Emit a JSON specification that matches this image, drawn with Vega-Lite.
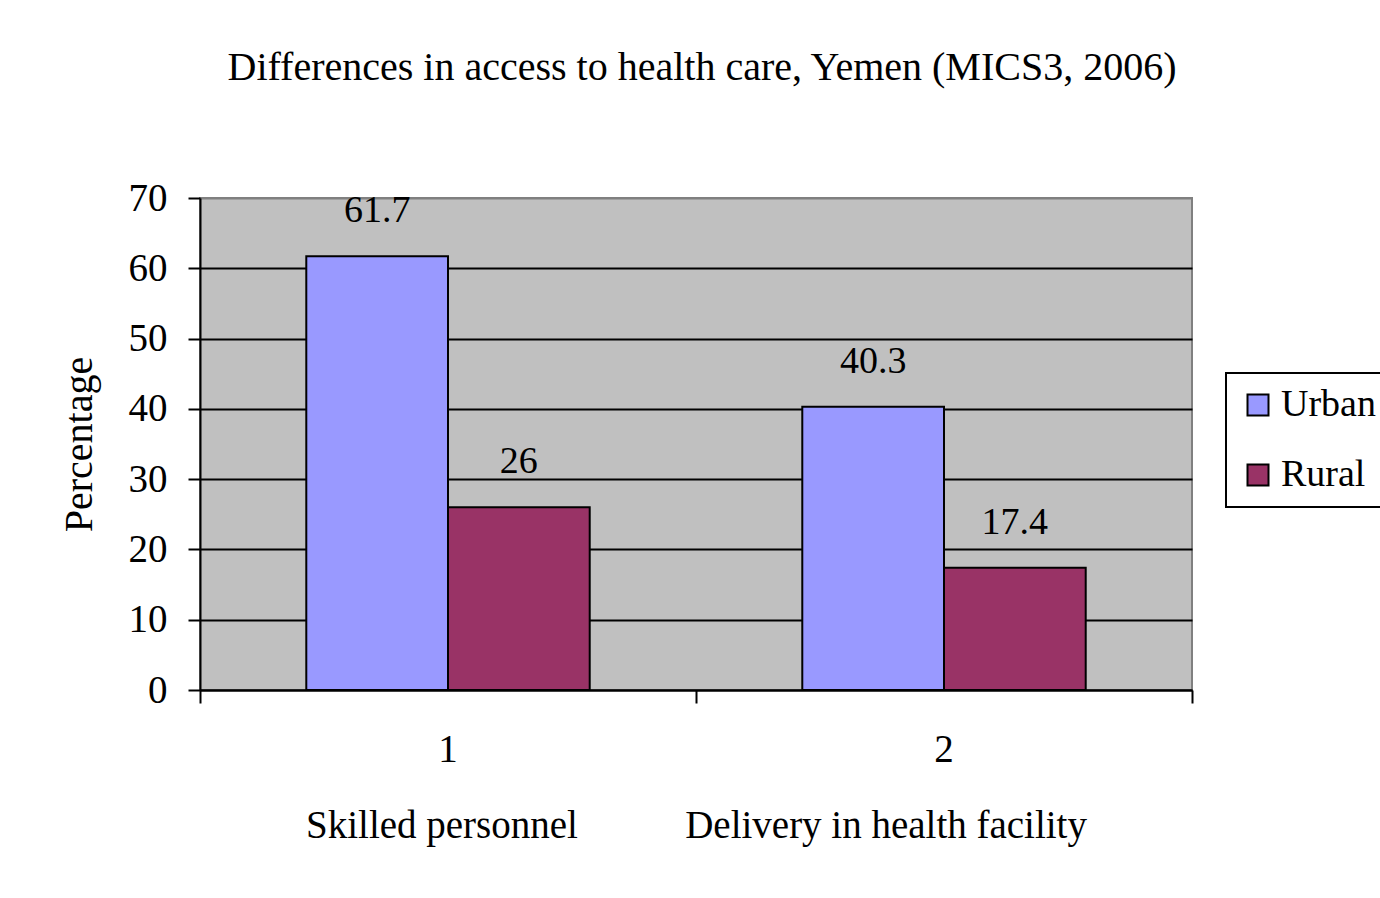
{
  "$schema": "https://vega.github.io/schema/vega-lite/v6.json",
  "width": 992,
  "height": 492,
  "autosize": "none",
  "padding": {"left": 200, "top": 198, "right": 188, "bottom": 208},
  "background": "white",
  "title": {
    "text": "Differences in access to health care, Yemen (MICS3, 2006)",
    "font": "Liberation Serif",
    "fontSize": 40,
    "fontWeight": "normal",
    "color": "black",
    "anchor": "middle",
    "baseline": "alphabetic",
    "offset": 59,
    "dx": 6
  },
  "config": {
    "font": "Liberation Serif",
    "view": {"fill": "#C0C0C0", "stroke": "#808080", "strokeWidth": 2},
    "legend": {"strokeWidth": 2}
  },
  "data": {
    "values": [
      {"cat": "1", "area": "Urban", "pct": 61.7},
      {"cat": "1", "area": "Rural", "pct": 26},
      {"cat": "2", "area": "Urban", "pct": 40.3},
      {"cat": "2", "area": "Rural", "pct": 17.4}
    ]
  },
  "layer": [
    {
      "mark": {"type": "bar", "stroke": "black", "strokeWidth": 2},
      "encoding": {
        "x": {
          "field": "cat",
          "type": "nominal",
          "scale": {"paddingInner": 0, "paddingOuter": 0},
          "axis": {
            "orient": "bottom",
            "labelAngle": 0,
            "ticks": false,
            "grid": false,
            "domain": true,
            "domainColor": "black",
            "domainWidth": 2,
            "labelFont": "Liberation Serif",
            "labelFontSize": 39,
            "labelColor": "black",
            "labelPadding": 40,
            "title": "Skilled personnel\u00a0\u00a0\u00a0\u00a0\u00a0\u00a0\u00a0\u00a0\u00a0\u00a0\u00a0Delivery in health facility",
            "titleFont": "Liberation Serif",
            "titleFontSize": 39,
            "titleFontWeight": "normal",
            "titleColor": "black",
            "titlePadding": 37
          }
        },
        "xOffset": {
          "field": "area",
          "type": "nominal",
          "sort": ["Urban", "Rural"],
          "scale": {"paddingInner": 0, "paddingOuter": 0.75}
        },
        "y": {
          "field": "pct",
          "type": "quantitative",
          "scale": {"domain": [0, 70], "nice": false},
          "axis": {
            "values": [0, 10, 20, 30, 40, 50, 60, 70],
            "grid": true,
            "gridColor": {"condition": {"test": "datum.value === 70", "value": "#808080"}, "value": "black"},
            "gridWidth": 2,
            "gridOpacity": 1,
            "tickColor": "black",
            "tickWidth": 2,
            "tickSize": 12,
            "domainColor": "black",
            "domainWidth": 2,
            "labelFont": "Liberation Serif",
            "labelFontSize": 39,
            "labelColor": "black",
            "labelPadding": 21,
            "title": "Percentage",
            "titleFont": "Liberation Serif",
            "titleFontSize": 40,
            "titleFontWeight": "normal",
            "titleColor": "black",
            "titlePadding": 29
          }
        },
        "color": {
          "field": "area",
          "type": "nominal",
          "sort": ["Urban", "Rural"],
          "scale": {"domain": ["Urban", "Rural"], "range": ["#9999FF", "#993366"]},
          "legend": {
            "orient": "none",
            "legendX": 1026,
            "legendY": 175,
            "title": null,
            "symbolType": "square",
            "symbolSize": 441,
            "symbolStrokeColor": "black",
            "symbolStrokeWidth": 2,
            "symbolOpacity": 1,
            "labelFont": "Liberation Serif",
            "labelFontSize": 38,
            "labelColor": "black",
            "labelOffset": 4,
            "rowPadding": 32,
            "padding": 13,
            "strokeColor": "black",
            "fillColor": "white"
          }
        }
      }
    },
    {
      "mark": {"type": "text", "baseline": "alphabetic", "dy": -34, "fontSize": 38, "font": "Liberation Serif", "color": "black"},
      "encoding": {
        "x": {
          "field": "cat",
          "type": "nominal",
          "axis": {
            "orient": "bottom",
            "bandPosition": 1,
            "tickExtra": true,
            "labels": false,
            "domain": false,
            "ticks": true,
            "tickColor": "black",
            "tickWidth": 2,
            "tickSize": 13,
            "grid": false,
            "title": null
          }
        },
        "xOffset": {"field": "area", "type": "nominal", "sort": ["Urban", "Rural"]},
        "y": {"field": "pct", "type": "quantitative"},
        "text": {"field": "pct", "type": "quantitative"}
      }
    }
  ],
  "resolve": {"axis": {"x": "independent"}}
}
